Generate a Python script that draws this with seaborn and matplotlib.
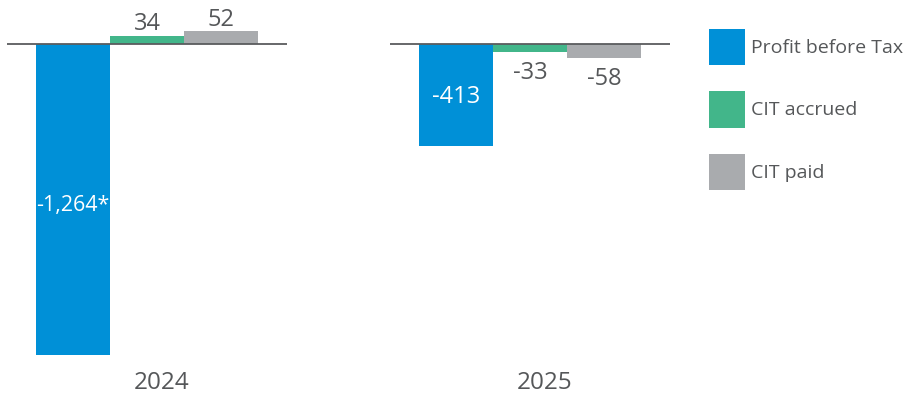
import matplotlib
matplotlib.use("Agg")
import matplotlib.pyplot as plt
import matplotlib.transforms as mtransforms
import seaborn as sns
import pandas as pd

years = ["2024", "2025"]
series = ["Profit before Tax", "CIT accrued", "CIT paid"]
profit_before_tax = [-1264, -413]
cit_accrued = [34, -33]
cit_paid = [52, -58]
notes = [["*", ""], ["", ""], ["", ""]]
colors = ["#0090D7", "#42B68A", "#A9ABAE"]

rows = []
for s, vals in zip(series, [profit_before_tax, cit_accrued, cit_paid]):
    for y, v in zip(years, vals):
        rows.append({"year": y, "series": s, "value": v})
df = pd.DataFrame(rows)

sns.set_theme(style="white")
plt.rcParams["font.family"] = ["Open Sans", "DejaVu Sans"]
TXT = "#555759"

fig = plt.figure(figsize=(9.08, 3.94), dpi=100)
W, H = 908, 394
ax = fig.add_axes([0, (H - 360) / H, 690 / W, 360 / H])

sns.barplot(data=df, x="year", y="value", hue="series", order=years,
            hue_order=series, palette=colors, width=0.58, saturation=1,
            ax=ax, legend=True, linewidth=0)

ax.set_xlim(-147 / 383, 1 + (690 - 530) / 383)
ax.set_ylim(-(360 - 44) / 0.246, 44 / 0.246)

for i in range(len(years)):
    ax.hlines(0, i - 0.365, i + 0.365, color="#5a5c5e", lw=1.3, zorder=3)

for k, cont in enumerate(ax.containers):
    for j, patch in enumerate(cont.patches):
        v = [profit_before_tax, cit_accrued, cit_paid][k][j]
        txt = f"{v:,}".replace("−", "-") + notes[k][j]
        cx = patch.get_x() + patch.get_width() / 2
        if k == 0:
            ax.text(cx, v * 0.52, txt, ha="center", va="center", color="white",
                    fontsize=17 if abs(v) < 1000 else 15.5)
        elif v >= 0:
            ax.annotate(txt, (cx, v), xytext=(0, 4), textcoords="offset points",
                        ha="center", va="baseline", color=TXT, fontsize=17)
        else:
            ax.annotate(txt, (cx, v), xytext=(0, -6.5), textcoords="offset points",
                        ha="center", va="top", color=TXT, fontsize=17)

ax.set_xlabel("")
ax.set_ylabel("")
ax.set_yticks([])
ax.tick_params(axis="x", length=0, pad=8, labelsize=17.5, labelcolor=TXT)
offset = mtransforms.ScaledTranslation(15 / 100, 0, fig.dpi_scale_trans)
for lab in ax.get_xticklabels():
    lab.set_transform(lab.get_transform() + offset)
for sp in ax.spines.values():
    sp.set_visible(False)

handles, labels = ax.get_legend_handles_labels()
ax.legend(handles, labels, loc="upper left",
          bbox_to_anchor=(709 / W, 1 - 29 / H), bbox_transform=fig.transFigure,
          frameon=False, fontsize=14, handlelength=36 / 19.44, handleheight=2.7 * 18 / 19.44,
          labelspacing=26 / 19.44, handletextpad=0.3, borderpad=0, borderaxespad=0,
          labelcolor=TXT)

fig.savefig("out.png", dpi=100)
